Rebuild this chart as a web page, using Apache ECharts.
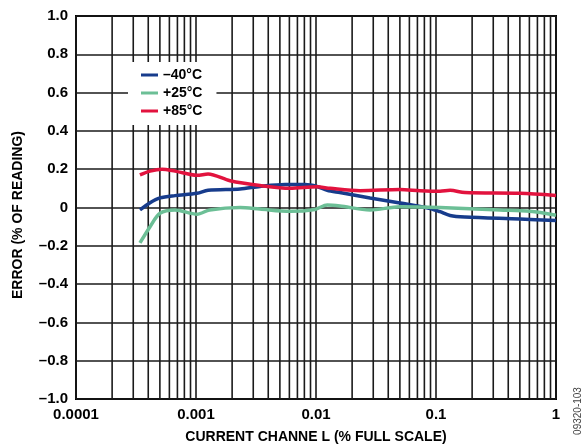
<!DOCTYPE html>
<html>
<head>
<meta charset="utf-8">
<script src="https://cdn.jsdelivr.net/npm/echarts@6/dist/echarts.min.js"></script>
<style>
html,body{margin:0;padding:0;background:#fff;}
#chart{width:587px;height:445px;}
</style>
</head>
<body>
<div id="chart"></div>
<script>
// ---- data ----
const seriesNames = ['\u201340\u00B0C', '+25\u00B0C', '+85\u00B0C'];
const seriesColors = ['#173c8c', '#6cbf96', '#e2133e'];

const blueX = [0.000341, 0.000414, 0.000501, 0.000668, 0.00102, 0.00126, 0.00233, 0.00341, 0.00552, 0.00809, 0.0102, 0.0124, 0.0158, 0.0282, 0.0501, 0.0891, 0.108, 0.131, 0.174, 0.501, 1];
const blueY = [-0.013, 0.025, 0.05, 0.062, 0.074, 0.09, 0.097, 0.11, 0.12, 0.12, 0.11, 0.09, 0.078, 0.05, 0.024, -0.005, -0.022, -0.042, -0.05, -0.06, -0.068];

const greenX = [0.000341, 0.000414, 0.000501, 0.000668, 0.00102, 0.0013, 0.00233, 0.00341, 0.00607, 0.0098, 0.0124, 0.0158, 0.0282, 0.0501, 0.108, 0.341, 0.607, 1];
const greenY = [-0.185, -0.1, -0.03, -0.013, -0.035, -0.013, 0.0, -0.008, -0.02, -0.01, 0.013, 0.008, -0.013, 0.004, 0.0, -0.013, -0.02, -0.04];

const redX = [0.000341, 0.000414, 0.000521, 0.000668, 0.00102, 0.00126, 0.00192, 0.00341, 0.00607, 0.0102, 0.0131, 0.0233, 0.0501, 0.0736, 0.108, 0.131, 0.174, 0.501, 1];
const redY = [0.17, 0.19, 0.2, 0.19, 0.168, 0.175, 0.14, 0.115, 0.1, 0.108, 0.1, 0.088, 0.094, 0.088, 0.085, 0.09, 0.078, 0.074, 0.063];

const xTickLabels = ['0.0001', '0.001', '0.01', '0.1', '1'];
const yMin = -1, yMax = 1, yStep = 0.2;

// minor log grid positions (2..9 in each decade)
const minorGrid = [];
for (let d = -4; d < 0; d++) {
  for (let m = 2; m <= 9; m++) minorGrid.push(m * Math.pow(10, d));
}

function pairs(xs, ys) { return xs.map((x, i) => [x, ys[i]]); }

const FONT = '"Liberation Sans", Arial, sans-serif';
const GRIDCOLOR = '#1a1a1a';
const chart = echarts.init(document.getElementById('chart'), null, {renderer: 'canvas'});

const lineSeries = [[blueX, blueY], [greenX, greenY], [redX, redY]].map((d, i) => ({
  name: seriesNames[i],
  type: 'line',
  data: pairs(d[0], d[1]),
  smooth: 0.3,
  showSymbol: false,
  symbol: 'none',
  z: 5,
  lineStyle: {color: seriesColors[i], width: 3.5},
  itemStyle: {color: seriesColors[i]},
  emphasis: {disabled: true},
  animation: false
}));

const option = {
  animation: false,
  backgroundColor: '#fff',
  grid: {
    left: 76, right: 31, top: 16, bottom: 46,
    containLabel: false,
    outerBoundsMode: 'none',
    show: true, borderColor: '#000', borderWidth: 2, backgroundColor: 'transparent'
  },
  legend: {
    data: seriesNames,
    orient: 'vertical',
    left: 128, top: 62,
    padding: [4, 14, 5, 13],
    itemGap: 0,
    itemWidth: 17, itemHeight: 3,
    icon: 'rect',
    backgroundColor: '#fff',
    borderWidth: 0,
    selectedMode: false,
    textStyle: {fontFamily: FONT, fontWeight: 'bold', fontSize: 14, color: '#000', lineHeight: 18}
  },
  xAxis: {
    type: 'log', logBase: 10, min: 0.0001, max: 1,
    name: 'CURRENT CHANNE L (% FULL SCALE)',
    nameLocation: 'middle', nameGap: 31,
    nameTextStyle: {fontFamily: FONT, fontWeight: 'bold', fontSize: 14, color: '#000'},
    axisLine: {show: false},
    axisTick: {show: false},
    minorTick: {show: false},
    splitLine: {show: true, lineStyle: {color: GRIDCOLOR, width: 1.6}},
    axisLabel: {
      fontFamily: FONT, fontWeight: 'bold', fontSize: 15, color: '#000', margin: 8,
      formatter: function (v) {
        const k = Math.round(Math.log10(v)) + 4;
        return xTickLabels[k] !== undefined ? xTickLabels[k] : '';
      }
    }
  },
  yAxis: {
    type: 'value', min: yMin, max: yMax, interval: yStep,
    name: 'ERROR (% OF READING)',
    nameLocation: 'middle', nameGap: 51,
    nameTextStyle: {fontFamily: FONT, fontWeight: 'bold', fontSize: 14, color: '#000', padding: [0, 15, 0, 0]},
    axisLine: {show: false},
    axisTick: {show: false},
    splitLine: {show: true, lineStyle: {color: GRIDCOLOR, width: 1.6}},
    axisLabel: {
      fontFamily: FONT, fontWeight: 'bold', fontSize: 15, color: '#000', margin: 8,
      formatter: function (v) {
        if (Math.abs(v) < 1e-9) return '0';
        return v.toFixed(1).replace('-', '\u2013');
      }
    }
  },
  graphic: [{
    type: 'text', x: 578, y: 411, rotation: Math.PI / 2,
    style: {text: '09320-103', fontFamily: FONT, fontSize: 10, fill: '#444', align: 'center', verticalAlign: 'middle'}
  }],
  series: [{
    name: 'minorGrid',
    type: 'custom',
    data: minorGrid.map(v => [v]),
    encode: {x: 0},
    z: 1,
    silent: true,
    clip: true,
    renderItem: function (params, api) {
      const v = api.value(0);
      const p1 = api.coord([v, yMax]);
      const p2 = api.coord([v, yMin]);
      return {
        type: 'line',
        shape: {x1: p1[0], y1: p1[1], x2: p2[0], y2: p2[1]},
        style: {stroke: GRIDCOLOR, lineWidth: 1.6}
      };
    }
  }].concat(lineSeries)
};
chart.setOption(option);
</script>
</body>
</html>
